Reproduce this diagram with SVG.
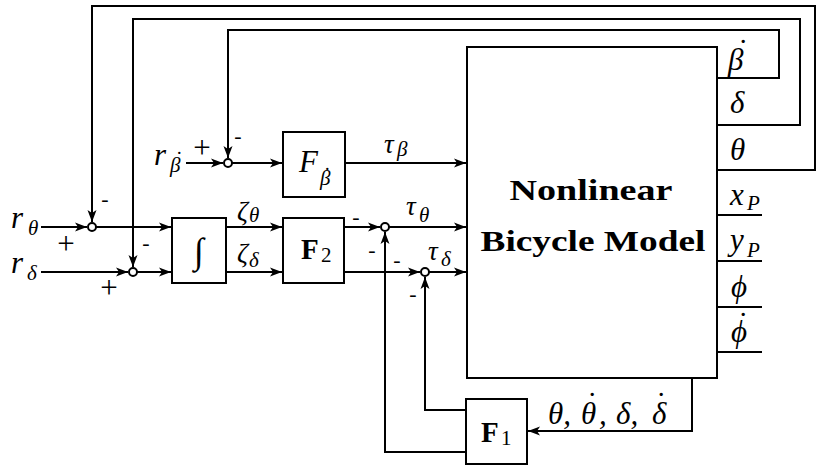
<svg xmlns="http://www.w3.org/2000/svg" width="816" height="466" viewBox="0 0 816 466">
<defs>
<marker id="ar" markerUnits="userSpaceOnUse" markerWidth="14" markerHeight="10" refX="12" refY="5" orient="auto">
<path d="M0,0.5 L12,5 L0,9.5 L3,5 z" fill="#000"/>
</marker>
</defs>
<style>
.ln{fill:none;stroke:#000;stroke-width:2}
.bx{fill:#fff;stroke:#000;stroke-width:2}
.jn{fill:#fff;stroke:#000;stroke-width:2}
text{font-family:"Liberation Serif","DejaVu Serif",serif}
.m{font-style:italic;font-size:31px}
.t{font-style:italic;font-size:27px}
.s{font-size:21px}
.dt{font-style:normal}
.r{font-size:31px;text-anchor:middle}
.h{font-size:22px;text-anchor:middle}
.b{font-weight:bold;font-size:29px}
</style>
<rect width="816" height="466" fill="#fff"/>
<g id="connectors">
<path class="ln" d="M717,78 H779 V30 H228 V158" marker-end="url(#ar)"/>
<path class="ln" d="M717,125 H800 V19 H133 V267" marker-end="url(#ar)"/>
<path class="ln" d="M717,170 H815 V6 H92 V222" marker-end="url(#ar)"/>
<path class="ln" d="M717,215 H762 M717,261 H762 M717,307 H762 M717,352 H762"/>
<path class="ln" d="M186,163 H223" marker-end="url(#ar)"/>
<path class="ln" d="M232,163 H282" marker-end="url(#ar)"/>
<path class="ln" d="M345,163 H466" marker-end="url(#ar)"/>
<path class="ln" d="M41,227 H87" marker-end="url(#ar)"/>
<path class="ln" d="M96,227 H171" marker-end="url(#ar)"/>
<path class="ln" d="M41,272 H128" marker-end="url(#ar)"/>
<path class="ln" d="M137,272 H171" marker-end="url(#ar)"/>
<path class="ln" d="M226,227 H282" marker-end="url(#ar)"/>
<path class="ln" d="M226,272 H282" marker-end="url(#ar)"/>
<path class="ln" d="M344,227 H380" marker-end="url(#ar)"/>
<path class="ln" d="M389,227 H466" marker-end="url(#ar)"/>
<path class="ln" d="M344,272 H420" marker-end="url(#ar)"/>
<path class="ln" d="M429,272 H466" marker-end="url(#ar)"/>
<path class="ln" d="M466,452 H385 V232" marker-end="url(#ar)"/>
<path class="ln" d="M466,410 H425 V277" marker-end="url(#ar)"/>
<path class="ln" d="M692,378 V431 H528" marker-end="url(#ar)"/>
</g>
<g id="model">
<rect class="bx" x="467" y="47" width="250" height="331"/>
<text class="b" x="591" y="200" text-anchor="middle" textLength="163" lengthAdjust="spacingAndGlyphs">Nonlinear</text>
<text class="b" x="593" y="251" text-anchor="middle" textLength="225" lengthAdjust="spacingAndGlyphs">Bicycle Model</text>
</g>
<g id="F_beta">
<rect class="bx" x="283" y="132" width="62" height="65"/>
<text class="m" font-size="30"><tspan x="299" y="172">F</tspan><tspan class="s" x="320" y="185">β</tspan><tspan class="dt s" x="323.7" y="182">˙</tspan></text>
</g>
<g id="integrator">
<rect class="bx" x="172" y="218" width="54" height="65"/>
<text x="199" y="263" text-anchor="middle" font-size="36">∫</text>
</g>
<g id="F2">
<rect class="bx" x="283" y="218" width="61" height="65"/>
<text class="b"><tspan x="301" y="259">F</tspan><tspan x="321" y="262" font-weight="normal" font-size="21">2</tspan></text>
</g>
<g id="F1">
<rect class="bx" x="466" y="399" width="61" height="65"/>
<text class="b"><tspan x="481" y="442">F</tspan><tspan x="501" y="445" font-weight="normal" font-size="21">1</tspan></text>
</g>
<g id="junctions">
<circle class="jn" cx="228" cy="163" r="4"/>
<circle class="jn" cx="92" cy="227" r="4"/>
<circle class="jn" cx="133" cy="272" r="4"/>
<circle class="jn" cx="385" cy="227" r="4"/>
<circle class="jn" cx="425" cy="272" r="4"/>
</g>
<g id="labels">
<text class="m"><tspan x="154" y="165">r</tspan><tspan class="s" x="170" y="172">β</tspan><tspan class="dt s" x="175.7" y="166">˙</tspan></text>
<text class="r" x="202" y="158">+</text>
<text class="h" x="238" y="142.5">-</text>
<text class="t"><tspan x="384" y="153">τ</tspan><tspan class="s" x="397" y="156">β</tspan></text>
<text class="m"><tspan x="11" y="228">r</tspan><tspan class="s" x="28" y="235">θ</tspan></text>
<text class="m"><tspan x="11" y="273">r</tspan><tspan class="s" x="27" y="280">δ</tspan></text>
<text class="r" x="66" y="254">+</text>
<text class="r" x="109" y="298">+</text>
<text class="h" x="105" y="205.5">-</text>
<text class="h" x="146" y="249.5">-</text>
<text class="t"><tspan x="237" y="220">ζ</tspan><tspan class="s" x="249" y="222">θ</tspan></text>
<text class="t"><tspan x="237" y="262">ζ</tspan><tspan class="s" x="249" y="267">δ</tspan></text>
<text class="h" x="356" y="223.5">-</text>
<text class="h" x="372" y="256.5">-</text>
<text class="h" x="397" y="266.5">-</text>
<text class="h" x="413" y="300.5">-</text>
<text class="t"><tspan x="406" y="215">τ</tspan><tspan class="s" x="419" y="222">θ</tspan></text>
<text class="t"><tspan x="428" y="260">τ</tspan><tspan class="s" x="441" y="266">δ</tspan></text>
<text class="m"><tspan x="728" y="70">β</tspan><tspan class="dt" x="738" y="61">˙</tspan></text>
<text class="m" x="730" y="113">δ</text>
<text class="m" x="730" y="160">θ</text>
<text class="m"><tspan x="730" y="205">x</tspan><tspan class="s" x="747" y="210">P</tspan></text>
<text class="m"><tspan x="730" y="250">y</tspan><tspan class="s" x="747" y="257">P</tspan></text>
<text class="m" x="731" y="297">ϕ</text>
<text class="m"><tspan x="731" y="342">ϕ</tspan><tspan class="dt" x="738" y="334">˙</tspan></text>
<text class="m"><tspan x="548" y="424">θ,</tspan><tspan x="581" y="424">θ</tspan><tspan class="dt" x="587" y="414">˙</tspan><tspan x="599" y="424">,</tspan><tspan x="616" y="424">δ,</tspan><tspan x="652" y="424">δ</tspan><tspan class="dt" x="656" y="414">˙</tspan></text>
</g>
</svg>
